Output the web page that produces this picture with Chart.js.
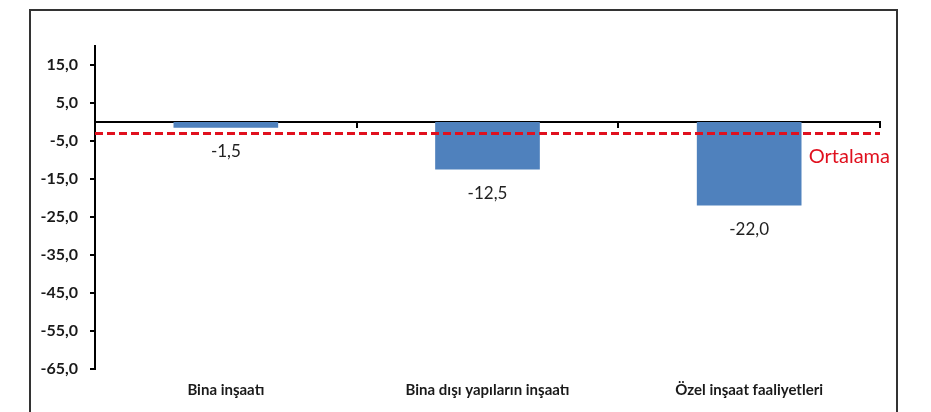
<!DOCTYPE html>
<html lang="tr">
<head>
<meta charset="utf-8">
<title>İnşaat alt sektörleri</title>
<script src="https://cdn.jsdelivr.net/npm/chart.js@4.4.1/dist/chart.umd.min.js"></script>
<style>
  html, body { margin: 0; padding: 0; background: #fff; }
  #wrap { position: relative; width: 931px; height: 412px; overflow: hidden; }
  #frame {
    position: absolute; left: 29px; top: 9px; width: 869px; height: 420px;
    border: 2px solid #333; box-sizing: border-box;
  }
  #chart { position: absolute; left: 0; top: 0; }
</style>
</head>
<body>
<div id="wrap">
  <div id="frame"></div>
  <canvas id="chart" width="931" height="412"></canvas>
</div>
<script>
'use strict';

// ── Data ─────────────────────────────────────────────────────────
const categories = ['Bina inşaatı', 'Bina dışı yapıların inşaatı', 'Özel inşaat faaliyetleri'];
const changes    = [-1.5, -12.5, -22.0];
const yTicks     = [15, 5, -5, -15, -25, -35, -45, -55, -65];
const average    = -3.0;
const averageLabel = 'Ortalama';

const fmt = v => v.toFixed(1).replace('.', ',');
const FONT = 'Lato, "Open Sans", sans-serif';

// ── Plugin: dashed average line + value labels under bars ────────
const overlay = {
    id: 'overlay',
    afterDatasetsDraw(chart) {
        const { ctx, chartArea, scales } = chart;
        const y = scales.y.getPixelForValue(average);

        ctx.save();
        ctx.strokeStyle = '#e0101e';
        ctx.lineWidth = 3;
        ctx.setLineDash([8, 4]);
        ctx.beginPath();
        ctx.moveTo(chartArea.left, y);
        ctx.lineTo(chartArea.right, y);
        ctx.stroke();
        ctx.setLineDash([]);

        ctx.fillStyle = '#e0101e';
        ctx.font = `20px ${FONT}`;
        ctx.textAlign = 'right';
        ctx.textBaseline = 'middle';
        ctx.fillText(averageLabel, chartArea.right + 10, y + 23);

        // value labels below each bar end
        ctx.fillStyle = '#222';
        ctx.font = `17px ${FONT}`;
        ctx.textAlign = 'center';
        chart.getDatasetMeta(0).data.forEach((bar, i) => {
            ctx.fillText(fmt(changes[i]), bar.x, bar.y + 24);
        });
        ctx.restore();
    }
};

new Chart(document.getElementById('chart'), {
    type: 'bar',
    data: {
        labels: categories,
        datasets: [{
            data: changes,
            backgroundColor: '#4f81bd',
            borderWidth: 0,
            xAxisID: 'x',
            categoryPercentage: 1,
            barPercentage: 0.4,
        }]
    },
    options: {
        responsive: false,
        animation: false,
        layout: { padding: { left: 0, right: 51, top: 46, bottom: 9 } },
        plugins: { legend: { display: false }, tooltip: { enabled: false } },
        scales: {
            // axis line running through zero, ticks at category boundaries
            x: {
                position: { y: 0 },
                grid: { display: true, drawOnChartArea: false, drawTicks: true, tickLength: 5, offset: true, color: '#000', lineWidth: 2 },
                border: { display: true, color: '#000', width: 2 },
                ticks: { display: false },
            },
            // category names along the bottom
            xLabels: {
                type: 'category',
                labels: categories,
                position: 'bottom',
                grid: { display: false },
                border: { display: false },
                ticks: { color: '#1a1a1a', font: { family: FONT, size: 15, weight: 'bold' }, padding: 4 },
            },
            y: {
                min: -65,
                max: 20,
                afterBuildTicks: scale => { scale.ticks = yTicks.map(v => ({ value: v })); },
                afterFit: scale => { scale.width = 95; },
                grid: { display: true, drawOnChartArea: false, drawTicks: true, tickLength: 5, color: '#000', lineWidth: 2 },
                border: { display: true, color: '#000', width: 2 },
                ticks: {
                    color: '#1a1a1a',
                    padding: 12,
                    font: { family: FONT, size: 16, weight: 'bold' },
                    callback: v => fmt(v),
                },
            }
        }
    },
    plugins: [overlay]
});
</script>
</body>
</html>
